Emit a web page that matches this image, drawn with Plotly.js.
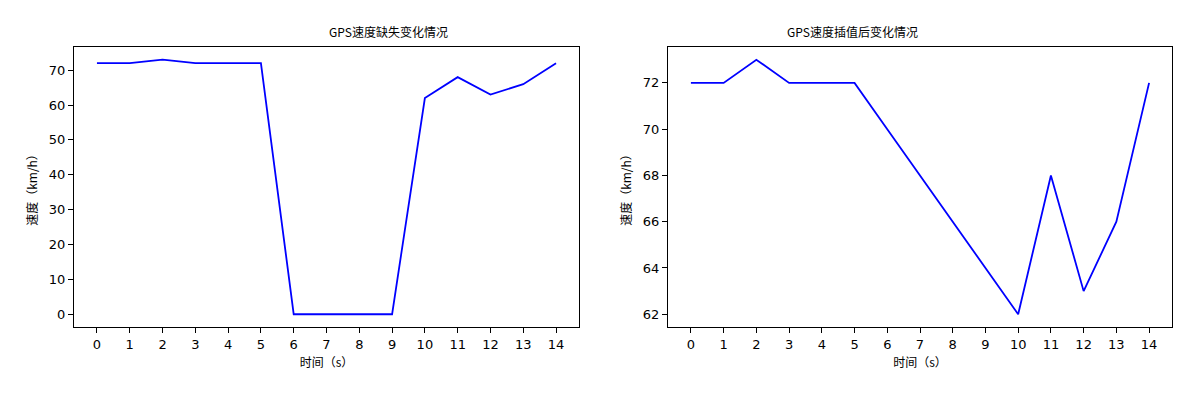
<!DOCTYPE html>
<html><head><meta charset="utf-8">
<script src="https://cdn.plot.ly/plotly-3.0.1.min.js"></script>
<style>html,body{margin:0;padding:0;background:#fff}#c{width:1200px;height:397px}</style>
</head><body><div id="c"></div>
<script>
const times = [0,1,2,3,4,5,6,7,8,9,10,11,12,13,14];
const speedMissing = [72,72,73,72,72,72,0,0,0,0,62,68,63,66,72];
const speedInterp = [72,72,73,72,72,72,70,68,66,64,62,68,63,66,72];
const titleLeft = 'GPS速度缺失变化情况';
const titleRight = 'GPS速度插值后变化情况';
const xLabel = '时间（s）';
const yLabel = '速度（km/h）';

const W = 1200, H = 397;
const cjk = '"Noto Sans CJK SC", "DejaVu Sans", sans-serif';
const tickFont = {family: '"DejaVu Sans", sans-serif', size: 13, color: '#000'};
const lineStyle = {color: '#0000ff', width: 1.8};

function xa(domain) {
  return {domain: domain, range: [-0.7, 14.7], tickmode: 'array', tickvals: times,
    ticks: 'outside', ticklen: 5, tickwidth: 1, tickcolor: '#000', showline: true, linecolor: '#000',
    linewidth: 1, mirror: true, showgrid: false, zeroline: false, tickfont: tickFont,
    title: {text: xLabel, font: {family: cjk, size: 12, color: '#000'}, standoff: 8}};
}
function ya(range, dtick, anchor) {
  return {domain: [0, 1], range: range, dtick: dtick, anchor: anchor,
    ticks: 'outside', ticklen: 5, tickwidth: 1, tickcolor: '#000', showline: true, linecolor: '#000',
    linewidth: 1, mirror: true, showgrid: false, zeroline: false, tickfont: tickFont,
    title: {text: yLabel, font: {family: cjk, size: 12, color: '#000'}, standoff: 8}};
}

const data = [
  {x: times, y: speedMissing, type: 'scatter', mode: 'lines', line: lineStyle, xaxis: 'x', yaxis: 'y'},
  {x: times, y: speedInterp, type: 'scatter', mode: 'lines', line: lineStyle, xaxis: 'x2', yaxis: 'y2'}
];

const layout = {
  width: W, height: H, showlegend: false,
  paper_bgcolor: '#fff', plot_bgcolor: '#fff',
  margin: {l: 0, r: 0, t: 47, b: 70},
  xaxis: Object.assign(xa([74/W, 579/W]), {anchor: 'y'}),
  yaxis: ya([-3.65, 76.65], 10, 'x'),
  xaxis2: Object.assign(xa([668/W, 1172/W]), {anchor: 'y2'}),
  yaxis2: ya([61.45, 73.55], 2, 'x2'),
  annotations: [
    {text: titleLeft, xref: 'paper', yref: 'paper', x: (74+579)/2/W, y: 1, yanchor: 'bottom', yshift: 5, showarrow: false,
     font: {family: cjk, size: 12, color: '#000'}},
    {text: titleRight, xref: 'paper', yref: 'paper', x: (668+1172)/2/W, y: 1, yanchor: 'bottom', yshift: 5, showarrow: false,
     font: {family: cjk, size: 12, color: '#000'}}
  ]
};
Plotly.newPlot('c', data, layout, {displayModeBar: false, staticPlot: true});
</script></body></html>
